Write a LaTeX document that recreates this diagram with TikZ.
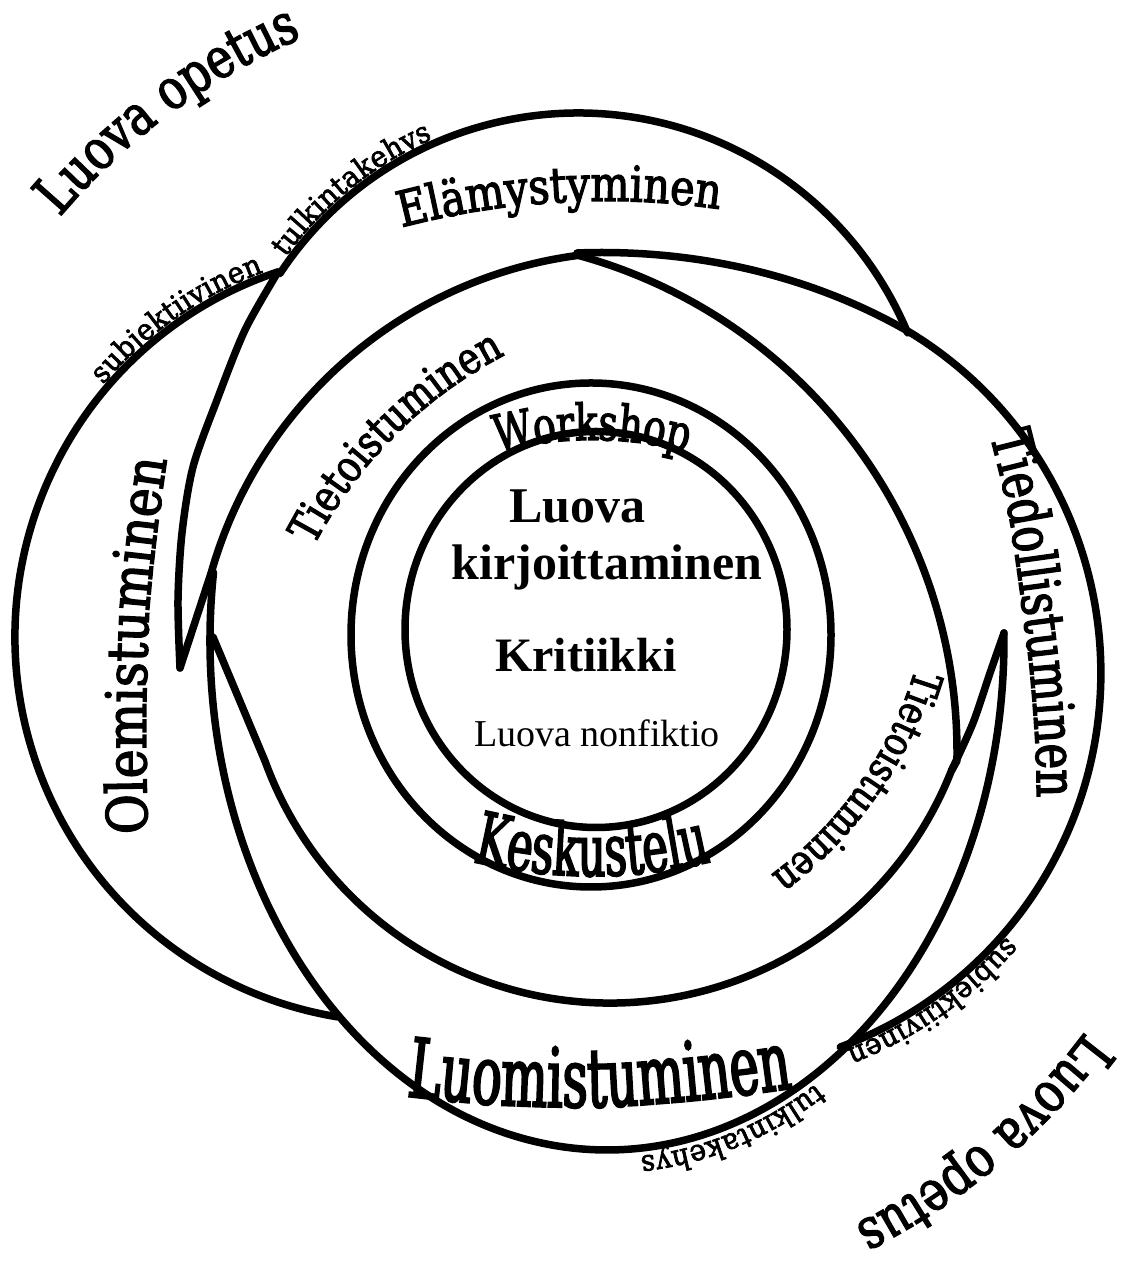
\documentclass[tikz,border=0pt]{standalone}
\usepackage{fontspec}
\setmainfont{Liberation Serif}
\newfontfamily\lbOp[FakeStretch=0.8,FakeBold=2.5]{DejaVu Serif}
\newfontfamily\lbSub[FakeStretch=0.95,FakeBold=2.5]{DejaVu Serif}
\newfontfamily\lbEl[FakeStretch=0.84,FakeBold=2.5]{DejaVu Serif}
\newfontfamily\lbWo[FakeStretch=0.75,FakeBold=2.5]{DejaVu Serif}
\newfontfamily\lbKe[FakeStretch=0.6,FakeBold=2.5]{DejaVu Serif}
\newfontfamily\lbTi[FakeStretch=0.82,FakeBold=2.5]{DejaVu Serif}
\newfontfamily\lbTd[FakeStretch=0.77,FakeBold=2.5]{DejaVu Serif}
\newfontfamily\lbOl[FakeStretch=0.87,FakeBold=2.5]{DejaVu Serif}
\newfontfamily\lbLu[FakeStretch=0.6,FakeBold=2.5]{DejaVu Serif}
\newcommand\fOp{\lbOp\fontsize{56}{56}\selectfont}
\newcommand\fSub{\lbSub\fontsize{29}{29}\selectfont}
\newcommand\fEl{\lbEl\fontsize{49}{49}\selectfont}
\newcommand\fWo{\lbWo\fontsize{50}{50}\selectfont}
\newcommand\fKe{\lbKe\fontsize{72}{72}\selectfont}
\newcommand\fTi{\lbTi\fontsize{44}{44}\selectfont}
\newcommand\fTj{\lbTi\fontsize{41}{41}\selectfont}
\newcommand\fOl{\lbOl\fontsize{56}{56}\selectfont}
\newcommand\fTd{\lbTd\fontsize{56}{56}\selectfont}
\newcommand\fLu{\lbLu\fontsize{82}{82}\selectfont}
\usetikzlibrary{decorations.text}
\tikzset{
  ring/.style={line width=7.5pt, line join=round, line cap=round},
  centertext/.style={anchor=base, inner sep=0pt},
}
\begin{document}
\begin{tikzpicture}[x=1pt,y=1pt]
\useasboundingbox (0,0) rectangle (1139,1279);

% outer-left arc (Olemistuminen outer)
\draw[ring] ([shift={(108.5:385)}]400,642) arc[start angle=108.5, end angle=260.6, radius=385];
% top arc (Elamystyminen outer)
\draw[ring] ([shift={(146.6:357)}]578,809) arc[start angle=146.6, end angle=22.6, radius=357];
% steep inner line of left crescent
\draw[ring] plot[smooth] coordinates {(278,1007) (245,949) (217,879) (193,812) (182,746) (178,679) (180,611)};
% upper-left part of third ring, from the left tip
\draw[ring] (180,611) -- (211.4,706.9) arc[start angle=164.1, end angle=97.7, radius=441.5];
% upper-right and lower part of third ring
\draw[ring] ([shift={(74.8:515)}]442,527) arc[start angle=74.8, end angle=-1, radius=515]
  -- (951.5,508.5) arc[start angle=-21.5, end angle=-160, radius=367] -- (213,642);
% Luomistuminen outer arc (ellipse)
\draw[ring] ([shift={(172.4:397 and 510)}]607,639) arc[start angle=172.4, end angle=360.8, x radius=397, y radius=510];
% right tip inner line
\draw[ring] plot[smooth] coordinates {(1004,646) (990,606) (973,556) (951.5,508.5)};
% right outer arc (Tiedollistuminen outer)
\draw[ring] (577,1026) .. controls (680,1030) and (800,1010) .. (909.1,947.1)
  arc[start angle=58.7, end angle=-69.7, radius=399];
% workshop ring and core circle
\draw[ring] (591,644) ellipse[x radius=240, y radius=252];
\draw[ring] (596,649.5) ellipse[x radius=191, y radius=198];

% centre texts
\node[centertext, font=\fontsize{50}{50}\selectfont\bfseries] (luova) at (577.5,756) {Luova};
\node[centertext, font=\fontsize{50}{50}\selectfont\bfseries] (kirj) at (607,699) {kirjoittaminen};
\node[centertext, font=\fontsize{48}{48}\selectfont\bfseries] (krit) at (586,607) {Kritiikki};
\node[centertext, font=\fontsize{38}{38}\selectfont] (nonf) at (597,532) {Luova nonfiktio};

% curved labels
\path[decorate, decoration={text along path, text align=center, text={|\fOp|Luova opetus}}]
  ([shift={(150:655)}]560,639) arc[start angle=150, end angle=103, radius=655];
\path[decorate, decoration={text along path, text align=center, text={|\fOp|Luova opetus}}]
  ([shift={(-26:655)}]560,639) arc[start angle=-26, end angle=-74, radius=655];
\path[decorate, decoration={text along path, text align=right, raise=4.5pt, text={|\fSub|subjektiivinen}}]
  ([shift={(160:385)}]400,642) arc[start angle=160, end angle=110.5, radius=385];
\path[decorate, decoration={text along path, text align=left, raise=4.5pt, text={|\fSub|tulkintakehys}}]
  ([shift={(144:357)}]578,809) arc[start angle=144, end angle=95, radius=357];
\path[decorate, decoration={text along path, text align=right, raise=4.5pt, text={|\fSub|subjektiivinen}}]
  ([shift={(-20:399)}]701.7,606.2) arc[start angle=-20, end angle=-69, radius=399];
\path[decorate, decoration={text along path, text align=left, raise=8pt, text={|\fSub|tulkintakehys}}]
  ([shift={(301:397 and 510)}]607,639) arc[start angle=301, end angle=240, x radius=397, y radius=510];
\path[decorate, decoration={text along path, text align=center, text={|\fEl|Elämystyminen}}]
  ([shift={(110:805)}]606,273) arc[start angle=110, end angle=76.6, radius=805];
\path[decorate, decoration={text along path, text align=center, text={|\fWo|Workshop}}]
  ([shift={(125:380)}]592,459) arc[start angle=125, end angle=55, radius=380];
\path[decorate, decoration={text along path, text align=center, text={|\fKe|Keskustelu}}]
  ([shift={(240:500)}]592,903) arc[start angle=240, end angle=300, radius=500];
\path[decorate, decoration={text along path, text align=center, text={|\fTi|Tietoistuminen}}]
  ([shift={(160:450)}]713,525) arc[start angle=160, end angle=110, radius=450];
\path[decorate, decoration={text along path, text align=center, text={|\fTj|Tietoistuminen}}]
  ([shift={(-10:400)}]532,725) arc[start angle=-10, end angle=-60, radius=400];
\path[decorate, decoration={text along path, text align=center, text={|\fOl|Olemistuminen}}]
  plot[smooth] coordinates {(150,387) (147,467) (146,567) (149,667) (157,747) (168,827) (178,877)};
\path[decorate, decoration={text along path, text align=center, text={|\fTd|Tiedollistuminen}}]
  plot[smooth] coordinates {(972,914) (990,844) (1008,769) (1020,689) (1030,609) (1036,529) (1037,459) (1035,409)};
\path[decorate, decoration={text along path, text align=center, text={|\fLu|Luomistuminen}}]
  plot[smooth] coordinates {(370,191) (405,183) (500,174) (600,172) (700,179) (795,191) (830,197)};
\end{tikzpicture}
\end{document}
